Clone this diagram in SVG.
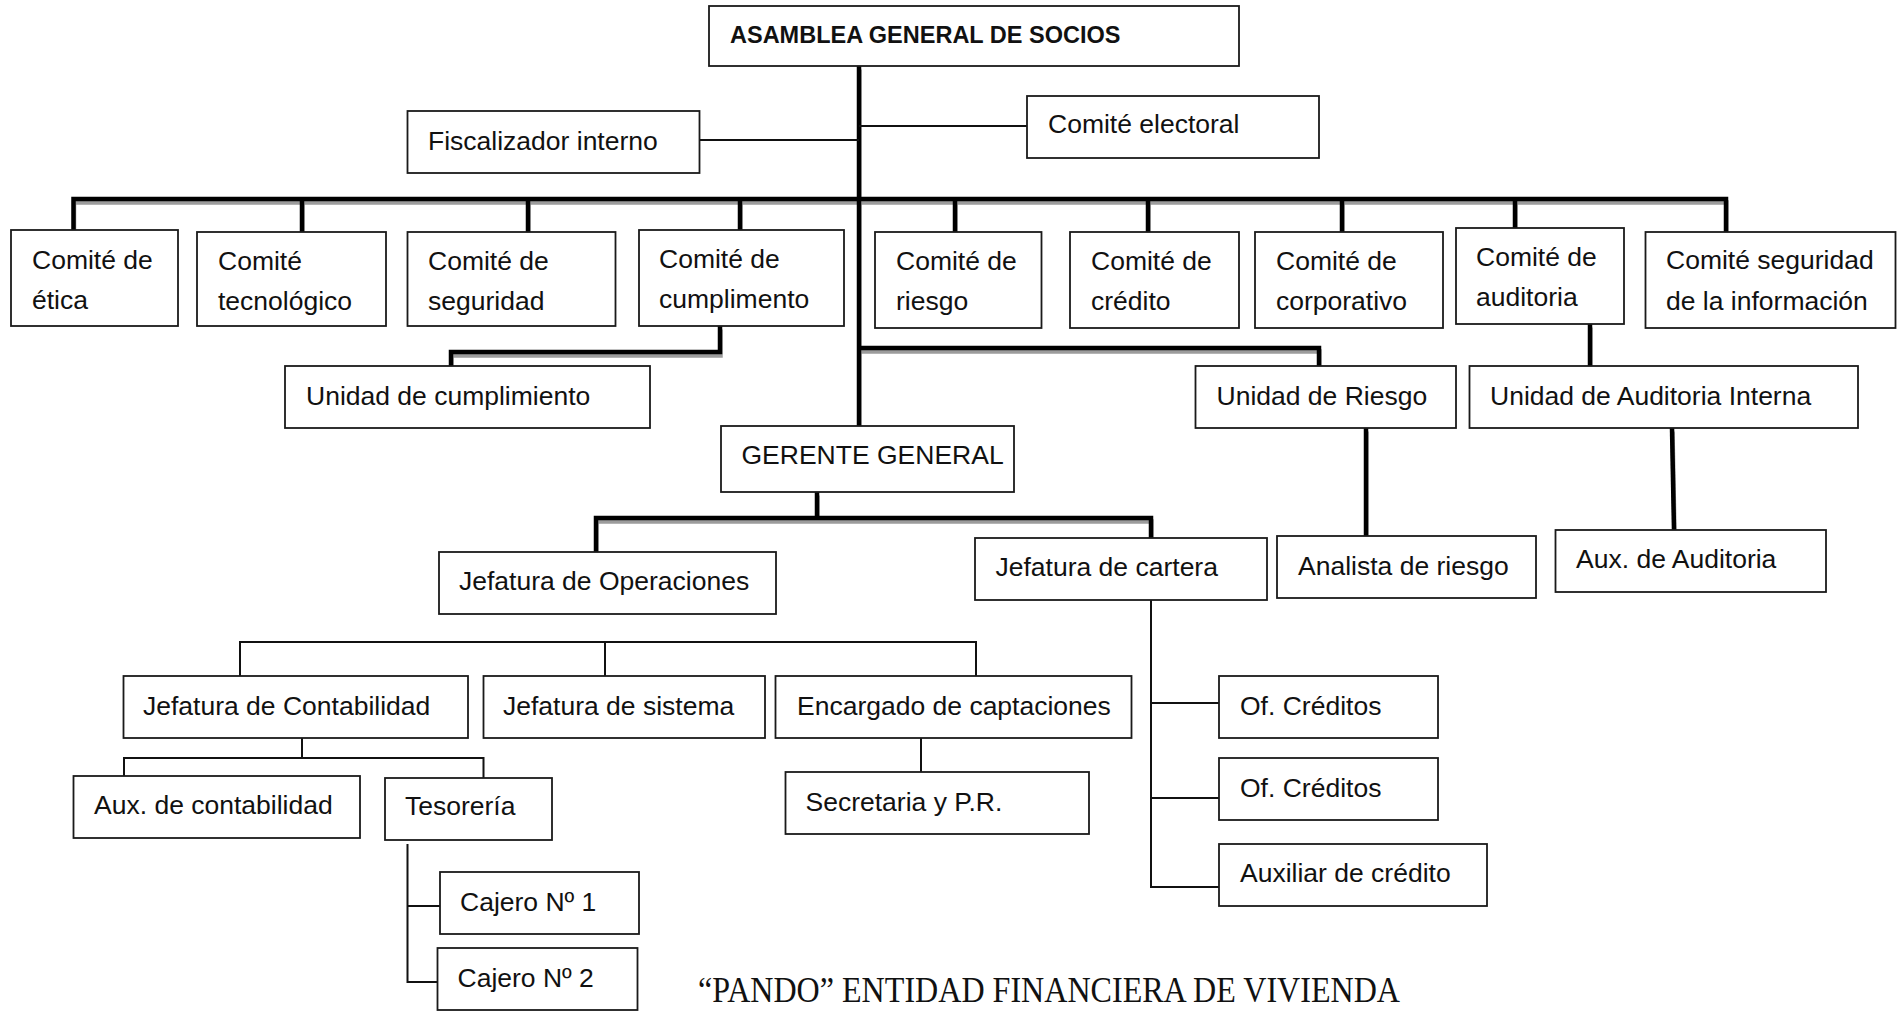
<svg xmlns="http://www.w3.org/2000/svg" width="1904" height="1012" viewBox="0 0 1904 1012">
<style>
  .box { fill: #fff; stroke: #1a1a1a; stroke-width: 1.8; }
  .t { font-family: "Liberation Sans", Arial, sans-serif; font-size: 26.5px; fill: #111; }
  .tb { font-family: "Liberation Sans", Arial, sans-serif; font-size: 23.5px; font-weight: bold; fill: #111; }
  .thin { fill: none; stroke: #111; stroke-width: 2; }
  .thk { fill: none; stroke: #000; stroke-width: 4.5; stroke-linejoin: miter; }
  .shd { fill: none; stroke: #9c9c9c; stroke-width: 4.5; stroke-linejoin: miter; }
  .foot { font-family: "Liberation Serif", "Times New Roman", serif; font-size: 36px; fill: #111; }
</style>
<rect x="0" y="0" width="1904" height="1012" fill="#fff"/>

<g id="connectors">
  <g transform="translate(0.5,3.5)">
    <path class="shd" d="M859 66 V426"/>
    <path class="shd" d="M73.5 230 V199 H1726 V232"/>
    <path class="shd" d="M302 199 V232 M528 199 V232 M740 199 V230 M955 199 V232 M1148 199 V232 M1342 199 V232 M1515 199 V228"/>
    <path class="shd" d="M720 326 V352 H451 V366"/>
    <path class="shd" d="M859 348 H1319 V366"/>
    <path class="shd" d="M1590 324 V366"/>
    <path class="shd" d="M817 492 V518 M596 552 V518 H1151 V538"/>
    <path class="shd" d="M1366 428 V536"/>
    <path class="shd" d="M1672 428 L1674 530"/>
  </g>
  <path class="thk" d="M859 66 V426"/>
  <path class="thk" d="M73.5 230 V199 H1726 V232"/>
  <path class="thk" d="M302 199 V232 M528 199 V232 M740 199 V230 M955 199 V232 M1148 199 V232 M1342 199 V232 M1515 199 V228"/>
  <path class="thk" d="M720 326 V352 H451 V366"/>
  <path class="thk" d="M859 348 H1319 V366"/>
  <path class="thk" d="M1590 324 V366"/>
  <path class="thk" d="M817 492 V518 M596 552 V518 H1151 V538"/>
  <path class="thk" d="M1366 428 V536"/>
  <path class="thk" d="M1672 428 L1674 530"/>

  <path class="thin" d="M700 140 H859"/>
  <path class="thin" d="M859 126 H1027"/>
  <path class="thin" d="M240 676 V642 H976 V676 M605 642 V676"/>
  <path class="thin" d="M302 738 V758 M124 776 V758 H483.5 V778"/>
  <path class="thin" d="M407.5 844 V982 H437.5 M407.5 906 H440"/>
  <path class="thin" d="M921 738 V772"/>
  <path class="thin" d="M1151 600 V887 H1219 M1151 703 H1219 M1151 798 H1219"/>
</g>

<g id="asamblea"><rect class="box" x="709" y="6" width="530" height="60"/><text class="tb" x="730" y="43">ASAMBLEA GENERAL DE SOCIOS</text></g>
<g id="fiscalizador"><rect class="box" x="407.5" y="111" width="292" height="62"/><text class="t" x="428" y="150">Fiscalizador interno</text></g>
<g id="comite-electoral"><rect class="box" x="1027" y="96" width="292" height="62"/><text class="t" x="1048" y="133">Comité electoral</text></g>

<g id="comite-etica"><rect class="box" x="11" y="230" width="167" height="96"/><text class="t" x="32" y="269">Comité de</text><text class="t" x="32" y="309">ética</text></g>
<g id="comite-tecnologico"><rect class="box" x="197" y="232" width="189" height="94"/><text class="t" x="218" y="270">Comité</text><text class="t" x="218" y="310">tecnológico</text></g>
<g id="comite-seguridad"><rect class="box" x="407.5" y="232" width="208" height="94"/><text class="t" x="428" y="270">Comité de</text><text class="t" x="428" y="310">seguridad</text></g>
<g id="comite-cumplimento"><rect class="box" x="639" y="230" width="205" height="96"/><text class="t" x="659" y="268">Comité de</text><text class="t" x="659" y="308">cumplimento</text></g>
<g id="comite-riesgo"><rect class="box" x="875" y="232" width="166.5" height="96"/><text class="t" x="896" y="270">Comité de</text><text class="t" x="896" y="310">riesgo</text></g>
<g id="comite-credito"><rect class="box" x="1070" y="232" width="169" height="96"/><text class="t" x="1091" y="270">Comité de</text><text class="t" x="1091" y="310">crédito</text></g>
<g id="comite-corporativo"><rect class="box" x="1255" y="232" width="188" height="96"/><text class="t" x="1276" y="270">Comité de</text><text class="t" x="1276" y="310">corporativo</text></g>
<g id="comite-auditoria"><rect class="box" x="1456" y="228" width="168" height="96"/><text class="t" x="1476" y="266">Comité de</text><text class="t" x="1476" y="306">auditoria</text></g>
<g id="comite-seguridad-informacion"><rect class="box" x="1645.5" y="232" width="250" height="96"/><text class="t" x="1666" y="269">Comité seguridad</text><text class="t" x="1666" y="310">de la información</text></g>

<g id="unidad-cumplimiento"><rect class="box" x="285" y="366" width="365" height="62"/><text class="t" x="306" y="405">Unidad de cumplimiento</text></g>
<g id="unidad-riesgo"><rect class="box" x="1195.5" y="366" width="260.5" height="62"/><text class="t" x="1216.5" y="405">Unidad de Riesgo</text></g>
<g id="unidad-auditoria"><rect class="box" x="1469.5" y="366" width="388.5" height="62"/><text class="t" x="1490" y="405">Unidad de Auditoria Interna</text></g>

<g id="gerente"><rect class="box" x="721" y="426" width="293" height="66"/><text class="t" x="741.5" y="464">GERENTE GENERAL</text></g>
<g id="jefatura-operaciones"><rect class="box" x="439" y="552" width="337" height="62"/><text class="t" x="459" y="590">Jefatura de Operaciones</text></g>
<g id="jefatura-cartera"><rect class="box" x="975" y="538" width="292" height="62"/><text class="t" x="995.5" y="576">Jefatura de cartera</text></g>
<g id="analista-riesgo"><rect class="box" x="1277" y="536" width="259" height="62"/><text class="t" x="1298" y="575">Analista de riesgo</text></g>
<g id="aux-auditoria"><rect class="box" x="1555.5" y="530" width="270.5" height="62"/><text class="t" x="1576" y="568">Aux. de Auditoria</text></g>

<g id="jefatura-contabilidad"><rect class="box" x="123.5" y="676" width="344.5" height="62"/><text class="t" x="143" y="715">Jefatura de Contabilidad</text></g>
<g id="jefatura-sistema"><rect class="box" x="483.5" y="676" width="281.5" height="62"/><text class="t" x="503" y="715">Jefatura de sistema</text></g>
<g id="encargado-captaciones"><rect class="box" x="775.5" y="676" width="356" height="62"/><text class="t" x="797" y="715">Encargado de captaciones</text></g>
<g id="of-creditos-1"><rect class="box" x="1219" y="676" width="219" height="62"/><text class="t" x="1240" y="715">Of. Créditos</text></g>

<g id="aux-contabilidad"><rect class="box" x="73.5" y="776" width="286.5" height="62"/><text class="t" x="94" y="814">Aux. de contabilidad</text></g>
<g id="tesoreria"><rect class="box" x="385" y="778" width="167" height="62"/><text class="t" x="405" y="815">Tesorería</text></g>
<g id="secretaria"><rect class="box" x="785.5" y="772" width="303.5" height="62"/><text class="t" x="805.5" y="811">Secretaria y P.R.</text></g>
<g id="of-creditos-2"><rect class="box" x="1219" y="758" width="219" height="62"/><text class="t" x="1240" y="797">Of. Créditos</text></g>
<g id="auxiliar-credito"><rect class="box" x="1219" y="844" width="268" height="62"/><text class="t" x="1240" y="882">Auxiliar de crédito</text></g>

<g id="cajero-1"><rect class="box" x="440" y="872" width="199" height="62"/><text class="t" x="460" y="911">Cajero Nº 1</text></g>
<g id="cajero-2"><rect class="box" x="437.5" y="948" width="200" height="62"/><text class="t" x="457.5" y="987">Cajero Nº 2</text></g>

<text class="foot" x="698" y="1002" textLength="702" lengthAdjust="spacingAndGlyphs">“PANDO” ENTIDAD FINANCIERA DE VIVIENDA</text>
</svg>
